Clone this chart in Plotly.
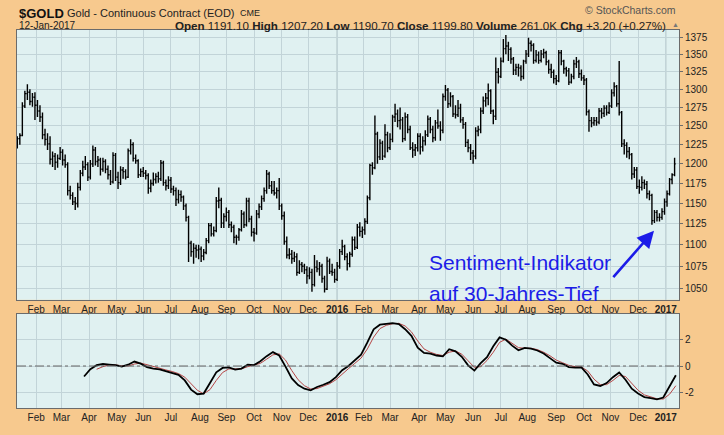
import math

import pandas as pd
import plotly.graph_objects as go

# $GOLD price bars, one bar per two trading days, 12-Jan-2015 .. 12-Jan-2017
bar_open = [
    1225, 1233, 1237, 1277, 1294, 1296, 1283, 1289,
    1278, 1270, 1262, 1238, 1232, 1226, 1206, 1210, 1202, 1207,
    1215, 1205, 1199, 1166, 1160, 1152, 1150, 1170, 1188, 1196, 1199,
    1183, 1200, 1218, 1203, 1205, 1193, 1203, 1193, 1186, 1177, 1211,
    1183, 1176, 1192, 1190, 1183, 1217, 1225, 1207, 1204, 1186,
    1190, 1188, 1185, 1169, 1175, 1180, 1184, 1181, 1201, 1176, 1172,
    1179, 1168, 1166, 1155, 1161, 1158, 1147, 1133, 1102, 1092, 1096, 1094,
    1095, 1087, 1091, 1105, 1123, 1113, 1117, 1153, 1154, 1126,
    1134, 1139, 1124, 1121, 1109, 1109, 1118, 1137, 1124, 1153, 1131,
    1115, 1114, 1137, 1146, 1156, 1166, 1187, 1172, 1166, 1163, 1166,
    1147, 1135, 1104, 1088, 1089, 1084, 1086, 1068, 1077, 1075, 1071,
    1064, 1068, 1054, 1074, 1072, 1075, 1061, 1049, 1081, 1069, 1068,
    1060, 1075, 1092, 1098, 1086, 1078, 1089, 1106, 1097, 1121, 1116,
    1118, 1128, 1157, 1198, 1195, 1239, 1209, 1227, 1210, 1238,
    1221, 1232, 1262, 1266, 1257, 1258, 1233, 1262, 1245, 1221, 1218, 1221,
    1236, 1222, 1230, 1238, 1259, 1245, 1234, 1254, 1250, 1244,
    1290, 1299, 1280, 1290, 1266, 1265, 1274, 1258, 1252, 1228, 1221,
    1214, 1210, 1243, 1245, 1270, 1284, 1288, 1298, 1270, 1263, 1324,
    1318, 1340, 1358, 1362, 1357, 1343, 1327, 1331, 1330, 1318, 1340,
    1350, 1366, 1363, 1341, 1349, 1341, 1350, 1352, 1339, 1328, 1324,
    1315, 1312, 1352, 1340, 1329, 1326, 1310, 1318, 1336, 1339, 1322,
    1316, 1313, 1269, 1257, 1254, 1257, 1255, 1270, 1267, 1274, 1268,
    1277, 1295, 1304, 1280, 1268, 1226, 1224, 1216, 1212, 1187, 1192,
    1171, 1170, 1176, 1174, 1162, 1160, 1129, 1139, 1133, 1133, 1140,
    1152, 1162, 1180, 1186,
]
bar_high = [
    1236, 1240, 1282, 1298, 1307, 1300, 1295, 1296,
    1285, 1278, 1268, 1246, 1240, 1236, 1216, 1214, 1212, 1222,
    1219, 1212, 1202, 1172, 1164, 1158, 1176, 1192, 1204, 1210, 1202,
    1205, 1224, 1222, 1210, 1208, 1208, 1206, 1198, 1192, 1215, 1214,
    1190, 1197, 1196, 1193, 1220, 1232, 1228, 1212, 1206, 1194,
    1196, 1192, 1188, 1180, 1189, 1188, 1190, 1205, 1204, 1180, 1184,
    1183, 1172, 1170, 1167, 1166, 1160, 1150, 1135, 1105, 1102, 1100, 1100,
    1098, 1095, 1108, 1126, 1126, 1122, 1158, 1170, 1157, 1138,
    1145, 1142, 1128, 1124, 1112, 1120, 1142, 1140, 1157, 1157, 1135,
    1120, 1142, 1150, 1160, 1170, 1192, 1190, 1178, 1178, 1170, 1182,
    1150, 1140, 1110, 1096, 1094, 1092, 1090, 1082, 1080, 1078, 1075,
    1074, 1072, 1088, 1082, 1080, 1078, 1064, 1086, 1084, 1078, 1072,
    1080, 1095, 1106, 1100, 1090, 1092, 1110, 1110, 1125, 1127, 1122,
    1132, 1160, 1200, 1202, 1264, 1242, 1232, 1230, 1252, 1242,
    1240, 1265, 1280, 1272, 1275, 1262, 1268, 1266, 1250, 1228, 1226, 1240,
    1240, 1236, 1244, 1264, 1262, 1250, 1258, 1272, 1256, 1294,
    1306, 1302, 1296, 1292, 1278, 1285, 1280, 1262, 1255, 1232, 1226,
    1218, 1248, 1250, 1275, 1290, 1295, 1308, 1300, 1272, 1345, 1330,
    1345, 1372, 1378, 1368, 1360, 1346, 1336, 1336, 1334, 1342, 1356,
    1374, 1370, 1366, 1356, 1354, 1356, 1358, 1355, 1342, 1336, 1328,
    1320, 1356, 1356, 1342, 1332, 1330, 1322, 1342, 1346, 1342, 1328,
    1320, 1316, 1272, 1262, 1262, 1262, 1274, 1274, 1278, 1278, 1282,
    1300, 1310, 1306, 1340, 1270, 1232, 1228, 1222, 1214, 1196, 1196,
    1180, 1184, 1180, 1178, 1166, 1162, 1142, 1142, 1138, 1144, 1156,
    1166, 1182, 1188, 1208,
]
bar_low = [
    1220, 1225, 1236, 1274, 1285, 1278, 1276, 1258,
    1262, 1255, 1232, 1224, 1218, 1199, 1196, 1192, 1195, 1205,
    1198, 1195, 1160, 1155, 1148, 1142, 1145, 1166, 1184, 1192, 1178,
    1180, 1196, 1198, 1196, 1185, 1190, 1188, 1180, 1173, 1175, 1178,
    1168, 1173, 1181, 1180, 1182, 1212, 1203, 1200, 1182, 1183,
    1183, 1180, 1162, 1164, 1172, 1175, 1176, 1178, 1172, 1166, 1168,
    1163, 1160, 1147, 1150, 1152, 1142, 1128, 1080, 1086, 1078, 1085, 1083,
    1080, 1082, 1089, 1102, 1110, 1110, 1115, 1144, 1120, 1120,
    1128, 1120, 1115, 1102, 1100, 1105, 1116, 1120, 1122, 1127, 1110,
    1104, 1112, 1132, 1142, 1152, 1162, 1168, 1162, 1160, 1156, 1142,
    1130, 1100, 1084, 1083, 1078, 1080, 1064, 1066, 1068, 1066, 1055,
    1060, 1046, 1052, 1068, 1064, 1056, 1045, 1048, 1066, 1064, 1056,
    1058, 1072, 1088, 1082, 1070, 1074, 1086, 1094, 1095, 1110, 1108,
    1112, 1125, 1154, 1186, 1193, 1200, 1205, 1205, 1208, 1215,
    1218, 1228, 1255, 1248, 1245, 1228, 1230, 1240, 1218, 1208, 1210, 1216,
    1212, 1216, 1224, 1235, 1240, 1228, 1230, 1246, 1230, 1240,
    1284, 1274, 1276, 1262, 1260, 1262, 1254, 1246, 1222, 1215, 1205,
    1200, 1206, 1236, 1240, 1266, 1276, 1278, 1266, 1252, 1258, 1308,
    1316, 1338, 1350, 1340, 1336, 1320, 1320, 1318, 1312, 1314, 1336,
    1346, 1354, 1336, 1338, 1336, 1338, 1344, 1334, 1322, 1316, 1308,
    1306, 1310, 1334, 1322, 1318, 1306, 1308, 1314, 1330, 1316, 1312,
    1306, 1264, 1242, 1248, 1250, 1250, 1252, 1260, 1262, 1264, 1266,
    1274, 1290, 1276, 1264, 1222, 1212, 1208, 1206, 1180, 1182, 1168,
    1162, 1166, 1168, 1156, 1154, 1124, 1126, 1128, 1128, 1130, 1136,
    1146, 1160, 1174, 1184,
]
bar_close = [
    1233, 1237, 1277, 1294, 1296, 1283, 1289, 1278,
    1270, 1262, 1238, 1232, 1226, 1206, 1210, 1202, 1207, 1215,
    1205, 1199, 1166, 1160, 1152, 1150, 1170, 1188, 1196, 1199, 1183,
    1200, 1218, 1203, 1205, 1193, 1203, 1193, 1186, 1177, 1211, 1183,
    1176, 1192, 1190, 1183, 1217, 1225, 1207, 1204, 1186, 1190,
    1188, 1185, 1169, 1175, 1180, 1184, 1181, 1201, 1176, 1172, 1179,
    1168, 1166, 1155, 1161, 1158, 1147, 1133, 1102, 1092, 1096, 1094, 1095,
    1087, 1091, 1105, 1123, 1113, 1117, 1153, 1154, 1126, 1134,
    1139, 1124, 1121, 1109, 1109, 1118, 1137, 1124, 1153, 1131, 1115,
    1114, 1137, 1146, 1156, 1166, 1187, 1172, 1166, 1163, 1166, 1147,
    1135, 1104, 1088, 1089, 1084, 1086, 1068, 1077, 1075, 1071, 1064,
    1068, 1054, 1074, 1072, 1075, 1061, 1049, 1081, 1069, 1068, 1060,
    1075, 1092, 1098, 1086, 1078, 1089, 1106, 1097, 1121, 1116, 1118,
    1128, 1157, 1198, 1195, 1239, 1209, 1227, 1210, 1238, 1221,
    1232, 1262, 1266, 1257, 1258, 1233, 1262, 1245, 1221, 1218, 1221, 1236,
    1222, 1230, 1238, 1259, 1245, 1234, 1254, 1250, 1244, 1290,
    1299, 1280, 1290, 1266, 1265, 1274, 1258, 1252, 1228, 1221, 1214,
    1210, 1243, 1245, 1270, 1284, 1288, 1298, 1270, 1263, 1324, 1318,
    1340, 1358, 1362, 1357, 1343, 1327, 1331, 1330, 1318, 1340, 1350,
    1366, 1363, 1341, 1349, 1341, 1350, 1352, 1339, 1328, 1324, 1315,
    1312, 1352, 1340, 1329, 1326, 1310, 1318, 1336, 1339, 1322, 1316,
    1313, 1269, 1257, 1254, 1257, 1255, 1270, 1267, 1274, 1268, 1277,
    1295, 1304, 1280, 1268, 1226, 1224, 1216, 1212, 1187, 1192, 1171,
    1170, 1176, 1174, 1162, 1160, 1129, 1139, 1133, 1133, 1140, 1152,
    1162, 1180, 1186, 1200,
]

# lower panel: oscillator (black) and its signal line (red), weekly readings from 26-Mar-2015
osc_line = [
    -0.80, -0.24, 0.06, 0.15, 0.11, 0.07, -0.05, 0.10, 0.34, 0.18,
    -0.08, -0.20, -0.26, -0.38, -0.52, -0.67, -1.10, -1.80, -2.15, -2.10,
    -1.30, -0.48, -0.15, -0.10, -0.28, -0.20, 0.10, 0.07, 0.36, 0.75,
    1.06, 0.80, -0.05, -0.95, -1.45, -1.73, -1.85, -1.60, -1.43, -1.23,
    -0.85, -0.32, 0.00, 0.40, 0.86, 1.80, 2.80, 3.15, 3.21, 3.26,
    3.20, 2.80, 2.30, 1.40, 1.00, 0.94, 0.80, 0.74, 1.28, 1.12,
    0.70, 0.05, -0.35, 0.22, 0.68, 1.50, 2.18, 2.00, 1.55, 1.20,
    1.38, 1.32, 1.18, 0.95, 0.60, 0.25, 0.17, -0.08, -0.12, -0.10,
    -0.65, -1.40, -1.52, -1.30, -0.85, -0.49, -1.05, -1.73, -2.10, -2.37,
    -2.45, -2.54, -2.40, -1.55, -0.70,
]
osc_signal = [
    None, None, -0.25, -0.05, 0.08, 0.08, 0.02, 0.00, 0.15, 0.22,
    0.10, -0.05, -0.18, -0.30, -0.42, -0.58, -0.85, -1.35, -1.85, -2.12,
    -1.80, -1.10, -0.50, -0.22, -0.22, -0.22, -0.05, 0.05, 0.20, 0.52,
    0.85, 0.92, 0.45, -0.35, -1.05, -1.50, -1.75, -1.72, -1.55, -1.35,
    -1.05, -0.60, -0.20, 0.20, 0.60, 1.30, 2.20, 2.85, 3.10, 3.22,
    3.25, 3.05, 2.60, 1.90, 1.30, 1.05, 0.88, 0.80, 1.05, 1.15,
    0.90, 0.40, -0.10, -0.05, 0.42, 1.05, 1.80, 2.05, 1.75, 1.40,
    1.35, 1.35, 1.25, 1.05, 0.78, 0.45, 0.25, 0.05, -0.05, -0.08,
    -0.38, -1.00, -1.42, -1.42, -1.10, -0.72, -0.80, -1.35, -1.85, -2.20,
    -2.38, -2.50, -2.52, -2.15, -1.50,
]

month_ticks = [
    "2015-02-02", "2015-03-02", "2015-04-01", "2015-05-01", "2015-06-01", "2015-07-01",
    "2015-08-03", "2015-09-01", "2015-10-01", "2015-11-02", "2015-12-01", "2016-01-01",
    "2016-02-01", "2016-03-01", "2016-04-01", "2016-05-02", "2016-06-01", "2016-07-01",
    "2016-08-01", "2016-09-01", "2016-10-03", "2016-11-01", "2016-12-01", "2017-01-02",
]
month_labels = [
    "Feb", "Mar", "Apr", "May", "Jun", "Jul", "Aug", "Sep", "Oct", "Nov", "Dec", "<b>2016</b>",
    "Feb", "Mar", "Apr", "May", "Jun", "Jul", "Aug", "Sep", "Oct", "Nov", "Dec", "<b>2017</b>",
]
year_lines = ["2016-01-01", "2017-01-02"]
price_ticks = [1050, 1075, 1100, 1125, 1150, 1175, 1200, 1225, 1250, 1275, 1300, 1325, 1350, 1375]
osc_ticks = [-2, 0, 2]
osc_tick_labels = ["-2", "0", "2"]

quote_fields = [("Open", "1191.10"), ("High", "1207.20"), ("Low", "1190.70"),
                ("Close", "1199.80"), ("Volume", "261.0K"), ("Chg", "+3.20 (+0.27%)")]

bar_dates = pd.bdate_range("2015-01-12", "2017-01-12")[::2][:len(bar_close)]
osc_dates = pd.date_range("2015-03-26", periods=len(osc_line), freq="W-THU")

FONT = "Liberation Sans, Arial, sans-serif"
BG = "#f7c98e"
PLOT_BG = "#e0f1f1"
GRID = "#c2d4d8"
FRAME = "#6b6b6b"
BLUE = "#1c1ce8"


# pixel -> paper helpers (plot area is x 17..679, y 30..418)
def px(x):
    return (x - 17) / 662


def py(y):
    return (418 - y) / 388


fig = go.Figure()
fig.add_trace(go.Ohlc(
    x=bar_dates, open=bar_open, high=bar_high, low=bar_low, close=bar_close,
    increasing=dict(line=dict(color="black", width=1.4)),
    decreasing=dict(line=dict(color="black", width=1.4)),
    tickwidth=0.45, xaxis="x", yaxis="y", showlegend=False,
))
fig.add_trace(go.Scatter(x=osc_dates, y=osc_signal, mode="lines",
                         line=dict(color="#b54545", width=1), xaxis="x2", yaxis="y2",
                         showlegend=False))
fig.add_trace(go.Scatter(x=osc_dates, y=osc_line, mode="lines",
                         line=dict(color="black", width=1.8), xaxis="x2", yaxis="y2",
                         showlegend=False))

x_common = dict(
    range=["2015-01-09 18:00", "2017-01-16 12:00"],
    rangebreaks=[dict(bounds=["sat", "mon"])],
    tickmode="array", tickvals=month_ticks, ticktext=month_labels,
    showgrid=True, gridcolor=GRID, gridwidth=1,
    showline=True, mirror=True, linecolor=FRAME, linewidth=1,
    ticks="", tickfont=dict(size=10, color="#222", family=FONT),
    rangeslider=dict(visible=False), fixedrange=True,
)
y_common = dict(
    side="right", showgrid=True, gridcolor=GRID, gridwidth=1,
    showline=True, mirror=True, linecolor=FRAME, linewidth=1,
    ticks="outside", ticklen=3, tickcolor=FRAME,
    tickfont=dict(size=10, color="#222", family=FONT), zeroline=False, fixedrange=True,
)

fig.update_layout(
    width=724, height=435,
    margin=dict(l=17, r=45, t=30, b=17),
    paper_bgcolor=BG, plot_bgcolor=PLOT_BG,
    font=dict(family=FONT, color="#222"),
    xaxis=dict(x_common, anchor="y", domain=[0, 1]),
    xaxis2=dict(x_common, anchor="y2", domain=[0, 1]),
    yaxis=dict(y_common, domain=[py(307), 1], type="log",
               range=[math.log10(1036.9), math.log10(1385.5)],
               tickvals=price_ticks, ticktext=[str(v) for v in price_ticks]),
    yaxis2=dict(y_common, domain=[0, py(321)], range=[-3.2, 4.0],
                tickvals=osc_ticks, ticktext=osc_tick_labels),
    showlegend=False,
)

shapes = [dict(type="line", xref="x2 domain", yref="y2", x0=0, x1=1, y0=0, y1=0,
               line=dict(color="#666", width=1.2, dash="dashdot"))]
for d in year_lines:
    shapes.append(dict(type="line", xref="x", yref="y domain", x0=d, x1=d, y0=0, y1=1,
                       line=dict(color="#9eb0b5", width=1), layer="below"))
    shapes.append(dict(type="line", xref="x2", yref="y2 domain", x0=d, x1=d, y0=0, y1=1,
                       line=dict(color="#9eb0b5", width=1), layer="below"))
fig.update_layout(shapes=shapes)

quote_text = " ".join(f"<b>{k}</b> {v}" for k, v in quote_fields)
notes = [
    dict(x=px(17), y=py(13), text="<b>$GOLD</b>", font=dict(size=13, color="#111")),
    dict(x=px(65), y=py(12.5), text="Gold - Continuous Contract (EOD)", font=dict(size=11)),
    dict(x=px(238), y=py(13), text="CME", font=dict(size=9)),
    dict(x=px(17), y=py(25.5), text="12-Jan-2017", font=dict(size=10)),
    dict(x=px(668), y=py(25.5), text=quote_text, xanchor="right", font=dict(size=11.6)),
    dict(x=px(670), y=py(24.5), text="▲", font=dict(size=7, color="#777")),
    dict(x=px(678), y=py(9), text="© StockCharts.com", xanchor="right",
         font=dict(size=10.5, color="#555")),
    dict(x=px(427), y=py(269), text="Sentiment-Indikator", font=dict(size=21, color=BLUE)),
    dict(x=px(427), y=py(300), text="auf 30-Jahres-Tief", font=dict(size=21, color=BLUE)),
]
annotations = []
for n in notes:
    a = dict(xref="paper", yref="paper", showarrow=False, xanchor="left",
             yanchor="middle")
    a.update(n)
    a["font"] = dict(dict(family=FONT, color="#222"), **n["font"])
    annotations.append(a)

annotations.append(dict(
    xref="paper", yref="paper", x=px(654), y=py(236), ax=-42, ay=48, text="",
    showarrow=True, arrowhead=2, arrowsize=1.3, arrowwidth=2.6, arrowcolor=BLUE,
))
fig.update_layout(annotations=annotations)

# the page body has a default 8px margin; drop it so the chart sits at the window origin
fig.write_html("out.html", config={"displayModeBar": False},
               post_script="document.body.style.margin='0';")
